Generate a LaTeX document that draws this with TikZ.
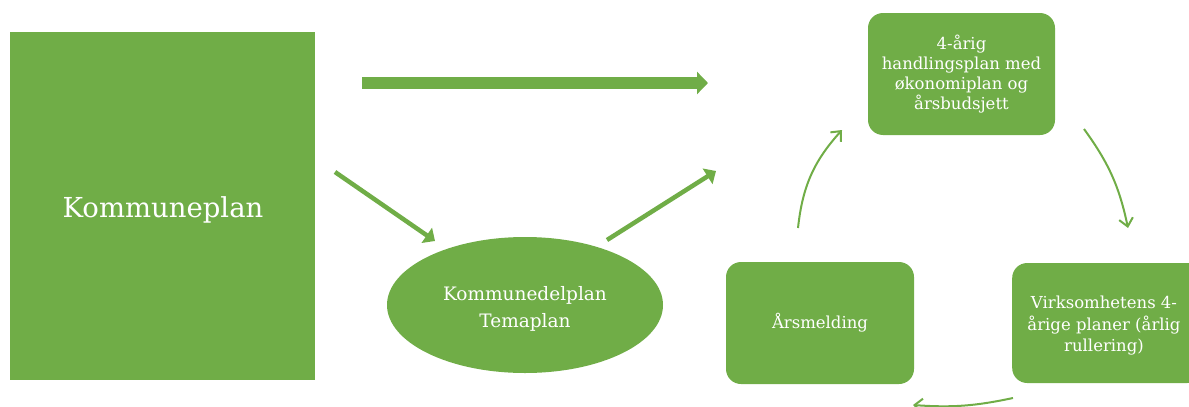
\documentclass[tikz,border=0pt]{standalone}
\usepackage{fontspec}
\setmainfont{DejaVu Serif}
\usetikzlibrary{arrows.meta,shapes.geometric}
\definecolor{grn}{HTML}{70AD47}
\begin{document}
\begin{tikzpicture}[x=1pt,y=-1pt,
  boxfont/.style={font=\fontsize{16.5}{20}\selectfont},
  box/.style={fill=grn,draw=none,rounded corners=15pt,text=white,align=center,boxfont},
  thin/.style={draw=grn,line width=2pt,-{Straight Barb[length=8pt,width=14pt]}},
  mid/.style={draw=grn,line width=4.5pt,-{Triangle[length=10pt,width=18pt]}}]
\useasboundingbox (0,0) rectangle (1189,407);
\node[fill=grn,minimum width=305pt,minimum height=348pt,inner sep=0] (kp) at (162.5,206) {};
\node[text=white,font=\fontsize{27.5}{32}\selectfont] (kpt) at (163,210) {Kommuneplan};
\node[ellipse,fill=grn,minimum width=276pt,minimum height=136pt,inner sep=0] (kdp) at (525,305) {};
\node[text=white,align=center,font=\fontsize{18.5}{27}\selectfont] (kdpt) at (525,309) {Kommunedelplan\\Temaplan};
\node[box,minimum width=187pt,minimum height=122pt,inner sep=0] (hp) at (961.5,74) {4-årig\\handlingsplan med\\økonomiplan og\\årsbudsjett};
\node[box,minimum width=188pt,minimum height=122pt,inner sep=0] (am) at (820,323) {Årsmelding};
\node[box,minimum width=190pt,minimum height=120pt,inner sep=0,anchor=west] (vp) at (1012,323) {};
\node[text=white,align=center,font=\fontsize{16.5}{21.5}\selectfont] (vpt) at (1104,326) {Virksomhetens 4-\\årige planer (årlig\\rullering)};
\coordinate (a1s) at (362,83);
\coordinate (a1e) at (708,83);
\draw[draw=grn,line width=12pt,-{Triangle[length=11pt,width=22pt]}] (a1s) -- (a1e);
\coordinate (a2s) at (335,172);
\coordinate (a2e) at (435,241);
\draw[mid] (a2s) -- (a2e);
\coordinate (a3s) at (607,240);
\coordinate (a3e) at (716,171);
\draw[mid] (a3s) -- (a3e);
\coordinate (c1s) at (798,228);
\coordinate (c1e) at (842,130);
\draw[thin] (c1s) to[bend left=18] (c1e);
\coordinate (c2s) at (1084,129);
\coordinate (c2e) at (1128,228);
\draw[thin] (c2s) to[bend left=12] (c2e);
\coordinate (c3s) at (1013,398);
\coordinate (c3e) at (913,405);
\draw[thin] (c3s) to[bend left=8] (c3e);
\end{tikzpicture}
\end{document}
